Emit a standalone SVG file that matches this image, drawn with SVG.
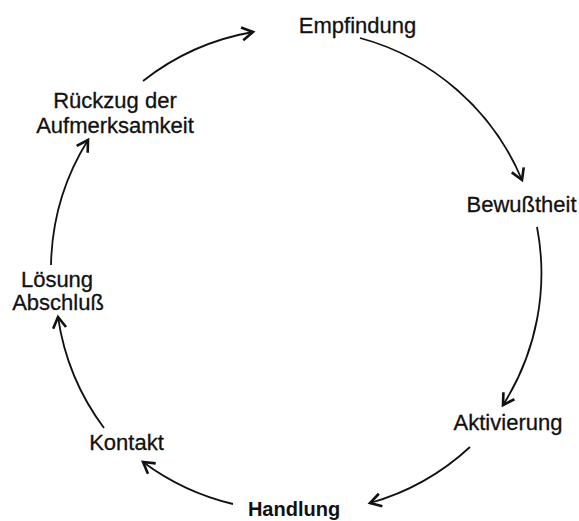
<svg xmlns="http://www.w3.org/2000/svg" width="579" height="521" viewBox="0 0 579 521">
  <style>
    .lbl { font-family: "Liberation Sans", Arial, sans-serif; font-size: 22px; fill: #111; stroke: #111; stroke-width: 0.3; text-anchor: middle; }
    .bold { font-weight: bold; font-size: 20px; stroke-width: 0; }
    .conn { fill: none; stroke: #111; stroke-width: 1.8; marker-end: url(#arrow); }
  </style>
  <defs>
    <marker id="arrow" markerUnits="userSpaceOnUse" markerWidth="18" markerHeight="18" viewBox="-14 -9 18 18" refX="0" refY="0" orient="auto">
      <path d="M-11,-6.5 L0,0 L-11,6.5" fill="none" stroke="#111" stroke-width="2.6" stroke-linejoin="miter"/>
    </marker>
  </defs>
  <rect width="579" height="521" fill="#fff"/>
  <g id="connectors">
    <path class="conn" d="M143,81 A245,245 0 0 1 253,32"/>
    <path class="conn" d="M360,38 A245,245 0 0 1 522,180"/>
    <path class="conn" d="M537,227 A245,245 0 0 1 503,405"/>
    <path class="conn" d="M470,447 A245,245 0 0 1 370,503"/>
    <path class="conn" d="M233,504 A245,245 0 0 1 143,462"/>
    <path class="conn" d="M104,428 A245,245 0 0 1 58,317"/>
    <path class="conn" d="M51,265 A245,245 0 0 1 88,140"/>
  </g>
  <g id="empfindung"><text class="lbl" x="357.5" y="33">Empfindung</text></g>
  <g id="bewusstheit"><text class="lbl" x="521.5" y="212">Bewußtheit</text></g>
  <g id="aktivierung"><text class="lbl" x="508" y="430">Aktivierung</text></g>
  <g id="handlung"><text class="lbl bold" x="294" y="516">Handlung</text></g>
  <g id="kontakt"><text class="lbl" x="126.5" y="450">Kontakt</text></g>
  <g id="loesung"><text class="lbl" x="57" y="287">Lösung</text><text class="lbl" x="58" y="310">Abschluß</text></g>
  <g id="rueckzug"><text class="lbl" x="115" y="108">Rückzug der</text><text class="lbl" x="115" y="133">Aufmerksamkeit</text></g>
</svg>
